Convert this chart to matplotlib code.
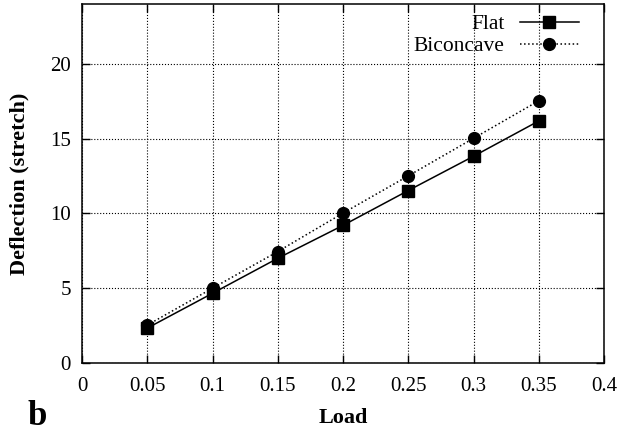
import numpy as np
import matplotlib.pyplot as plt

plt.rcParams['font.family'] = ['Liberation Serif', 'DejaVu Serif']

load = [0.05, 0.1, 0.15, 0.2, 0.25, 0.3, 0.35]
flat = [2.33, 4.66, 7.0, 9.2, 11.53, 13.82, 16.18]
biconcave = [2.53, 5.0, 7.45, 10.02, 12.51, 15.02, 17.53]

xticks = [0, 0.05, 0.1, 0.15, 0.2, 0.25, 0.3, 0.35, 0.4]
xticklabels = ['0', '0.05', '0.1', '0.15', '0.2', '0.25', '0.3', '0.35', '0.4']
yticks = [0, 5, 10, 15, 20]

fig = plt.figure(figsize=(6.33, 4.33), dpi=100)
ax = fig.add_axes([82/633, 70/433, 522/633, 359/433])

ax.plot(load, flat, '-', color='black', lw=1.1, marker='s', ms=8.5, label='Flat')
ax.plot(load, biconcave, ':', color='black', lw=1.1, marker='o', ms=8.5, label='Biconcave')

ax.set_xlim(0, 0.4)
ax.set_ylim(0, 24)
ax.set_xticks(xticks)
ax.set_xticklabels(xticklabels)
ax.set_yticks(yticks)
ax.tick_params(direction='in', top=True, right=True, labelsize=15, length=6, width=1)
ax.tick_params(axis='x', pad=10)
ax.tick_params(axis='y', pad=8)
ax.grid(True, linestyle=':', color='black', lw=0.8)
for s in ax.spines.values():
    s.set_linewidth(1.1)

ax.set_xlabel('Load', fontsize=16, fontweight='bold')
ax.xaxis.set_label_coords(0.5, -0.125)
ax.set_ylabel('Deflection (stretch)', fontsize=16, fontweight='bold')
ax.yaxis.set_label_coords(-0.10, 0.5)

ax.legend(loc='upper right', bbox_to_anchor=(0.964, 0.99), markerfirst=False,
          frameon=False, fontsize=15.5, handlelength=2.75, handletextpad=0.7,
          borderaxespad=0, borderpad=0.3, labelspacing=0.1)

fig.text(27/633, 8/433, 'b', fontsize=25, fontweight='bold', va='baseline')

fig.savefig('out.png', dpi=100)
